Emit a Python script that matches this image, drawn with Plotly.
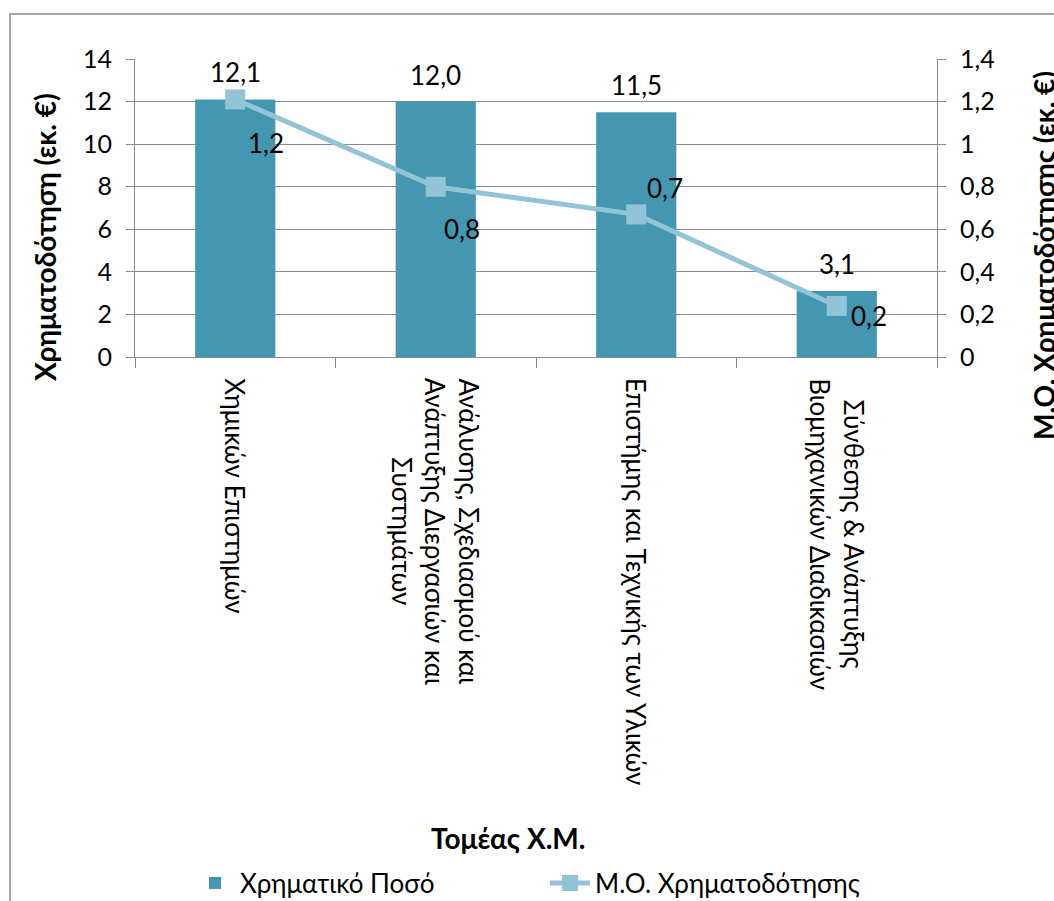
import plotly.graph_objects as go

categories = [
    "Χημικών Επιστημών",
    "Ανάλυσης, Σχεδιασμού και<br>Ανάπτυξης Διεργασιών και<br>Συστημάτων",
    "Επιστήμης και Τεχνικής των Υλικών",
    "Σύνθεσης & Ανάπτυξης<br>Βιομηχανικών Διαδικασιών",
]
cat_ids = ["c1", "c2", "c3", "c4"]
amount = [12.1, 12.0, 11.5, 3.1]          # Χρηματικό Ποσό (εκ. €)
avg_funding = [1.21, 0.80, 0.67, 0.24]    # Μ.Ο. Χρηματοδότησης (εκ. €)
left_ticks = [0, 2, 4, 6, 8, 10, 12, 14]
right_ticks = [0, 0.2, 0.4, 0.6, 0.8, 1.0, 1.2, 1.4]

# style
FONT = "Lato, 'Noto Sans', 'DejaVu Sans', sans-serif"
BAR_COLOR = "#4397B0"
LINE_COLOR = "#93C3D6"
GRID = "#8A8A8A"
FS = 26
TICK_FS = 25
TITLE_FS = 28
line_label_offsets = [(31, -44), (26, -42), (29, 26), (32, -10)]

W, H = 1054, 901
L, R, T, B = 135, 117, 59, 544
pw, ph = W - L - R, H - T - B

fig = go.Figure()
fig.add_trace(go.Bar(
    x=cat_ids, y=amount, name="Χρηματικό Ποσό",
    marker=dict(color=BAR_COLOR, line=dict(width=0)),
    yaxis="y",
))
fig.add_trace(go.Scatter(
    x=cat_ids, y=avg_funding, name="Μ.Ο. Χρηματοδότησης",
    mode="lines+markers",
    line=dict(color=LINE_COLOR, width=5),
    marker=dict(symbol="square", size=20, color=LINE_COLOR),
    yaxis="y2",
))

ann = []
def fmt(v):
    return f"{v:.1f}".replace(".", ",")

for c, v in zip(cat_ids, amount):
    ann.append(dict(x=c, y=v, xref="x", yref="y", text=fmt(v), showarrow=False,
                    yanchor="middle", xanchor="center", yshift=27,
                    font=dict(size=FS, color="#000")))
for c, v, (dx, dy) in zip(cat_ids, avg_funding, line_label_offsets):
    ann.append(dict(x=c, y=v, xref="x", yref="y2", text=fmt(v), showarrow=False,
                    yanchor="middle", xanchor="center", xshift=dx, yshift=dy,
                    font=dict(size=FS, color="#000")))
for c, lab in zip(cat_ids, categories):
    ann.append(dict(x=c, y=0, xref="x", yref="paper", text=lab, showarrow=False,
                    textangle=90, xanchor="center", yanchor="top", yshift=-19,
                    align="center", font=dict(size=FS, color="#000")))
# axis titles
ann.append(dict(x=(45 - L) / pw, y=(H - B - 237) / ph, xref="paper", yref="paper",
                text="<b>Χρηματοδότηση (εκ. €)</b>", textangle=-90, showarrow=False,
                xanchor="center", yanchor="middle", font=dict(size=TITLE_FS, color="#000")))
ann.append(dict(x=(1044 - L) / pw, y=(H - B - 256) / ph, xref="paper", yref="paper",
                text="<b>Μ.Ο. Χρηματοδότησης (εκ. €)</b>", textangle=-90, showarrow=False,
                xanchor="center", yanchor="middle", font=dict(size=TITLE_FS, color="#000")))
ann.append(dict(x=(508 - L) / pw, y=(H - B - 838) / ph, xref="paper", yref="paper",
                text="<b>Τομέας Χ.Μ.</b>", showarrow=False,
                xanchor="center", yanchor="middle", font=dict(size=TITLE_FS, color="#000")))

fig.update_layout(
    width=W, height=H,
    margin=dict(l=L, r=R, t=T, b=B, autoexpand=False),
    paper_bgcolor="white", plot_bgcolor="white",
    font=dict(family=FONT, size=FS, color="#000"),
    separators=",.",
    bargap=0.6,
    showlegend=True,
    legend=dict(orientation="h", x=(190 - L) / pw, xanchor="left",
                y=(H - B - 883) / ph, yanchor="middle",
                font=dict(size=FS), bgcolor="rgba(0,0,0,0)", itemwidth=40,
                entrywidth=300, traceorder="normal"),
    annotations=ann,
    xaxis=dict(type="category", range=[-0.5, 3.5], showticklabels=False,
               showline=True, linecolor=GRID, linewidth=1,
               ticks="outside", tickson="boundaries", ticklen=10, tickcolor=GRID,
               showgrid=False, zeroline=False, fixedrange=True),
    yaxis=dict(range=[0, 14], tickvals=left_ticks, showgrid=True, gridcolor=GRID,
               gridwidth=1, showline=True, linecolor=GRID, ticks="outside",
               ticklen=8, tickcolor=GRID, zeroline=False,
               tickfont=dict(size=TICK_FS), ticklabelstandoff=9),
    yaxis2=dict(range=[0, 1.4], tickvals=right_ticks, overlaying="y", side="right",
                showgrid=False, showline=True, linecolor=GRID, ticks="outside",
                ticklen=8, tickcolor=GRID, zeroline=False,
                tickfont=dict(size=TICK_FS), ticklabelstandoff=9),
    shapes=[dict(type="rect", xref="paper", yref="paper",
                 x0=(10 - L) / pw, x1=(1200 - L) / pw,
                 y0=(H - B - 1000) / ph, y1=(H - B - 14) / ph,
                 line=dict(color=GRID, width=1.5), fillcolor="rgba(0,0,0,0)",
                 layer="below")],
)

fig.write_html("out.html")
